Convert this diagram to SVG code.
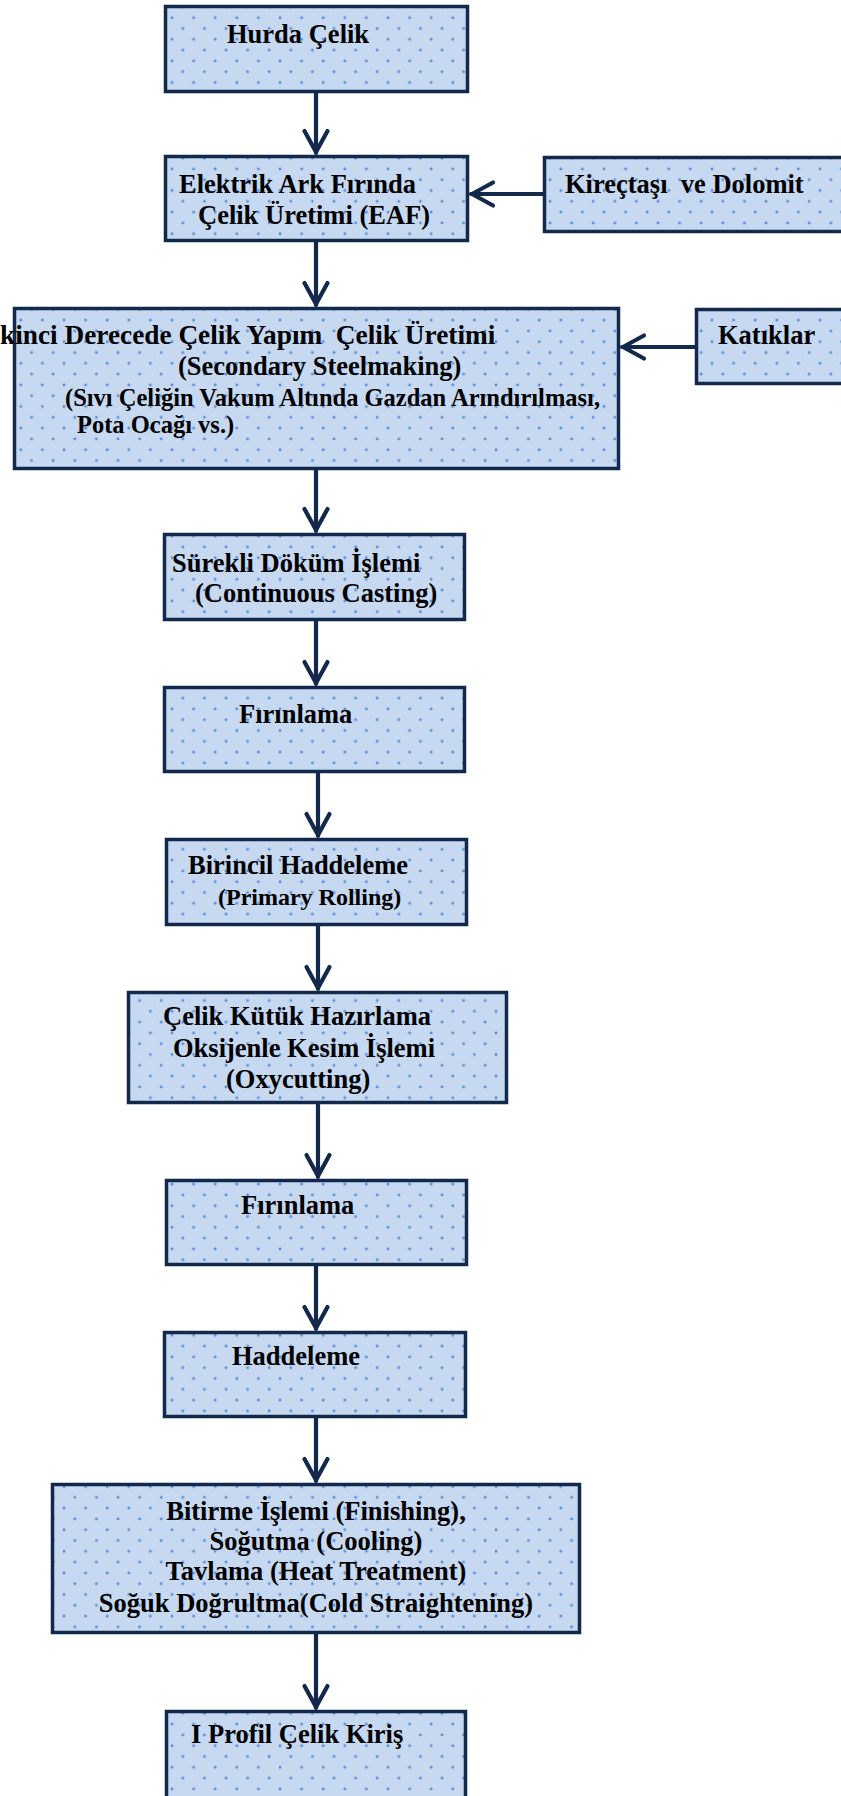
<svg xmlns="http://www.w3.org/2000/svg" width="841" height="1796" viewBox="0 0 841 1796" xml:space="preserve">
  <defs>
    <!-- staggered blue dot texture used inside every box -->
    <pattern id="dots" patternUnits="userSpaceOnUse" x="7" y="4" width="21.6" height="21.6">
      <rect width="21.6" height="21.6" fill="#c6d9f1"/>
      <circle cx="3" cy="3" r="1.45" fill="#5b8fd9"/>
      <circle cx="13.8" cy="13.8" r="1.45" fill="#5b8fd9"/>
    </pattern>
    <marker id="arrow" markerUnits="userSpaceOnUse" markerWidth="32" markerHeight="32" viewBox="0 0 32 32" refX="26" refY="16" orient="auto">
      <path d="M4,4.5 L25,16 L4,27.5" fill="none" stroke="#13294b" stroke-width="4.2" stroke-linecap="round" stroke-linejoin="round"/>
    </marker>
  </defs>
  <style>
    .box { fill: url(#dots); stroke: #13294b; stroke-width: 3.5; }
    .t { font-family: "Liberation Serif", "Times New Roman", serif; font-weight: bold; font-size: 26.5px; fill: #000; white-space: pre; }
    .s { font-size: 24px; }
    .m { font-size: 24.5px; }
    .l { font-size: 27.3px; }
    .c { text-anchor: middle; }
    .conn line { stroke: #13294b; stroke-width: 4.2; stroke-linecap: round; marker-end: url(#arrow); }
  </style>

  <g id="n-hurda">
    <rect class="box" x="165.5" y="6.5" width="302" height="85"/>
    <text class="t" x="227" y="43">Hurda Çelik</text>
  </g>

  <g id="n-eaf">
    <rect class="box" x="165.5" y="156.5" width="302" height="84"/>
    <text class="t" x="179" y="193">Elektrik Ark Fırında</text>
    <text class="t" x="198" y="224">Çelik Üretimi (EAF)</text>
  </g>

  <g id="n-kirectasi">
    <rect class="box" x="544.5" y="157.5" width="310" height="74"/>
    <text class="t" x="565" y="193" xml:space="preserve">Kireçtaşı  ve Dolomit</text>
  </g>

  <g id="n-secondary">
    <rect class="box" x="14.5" y="308.5" width="604" height="160"/>
    <text class="t l" x="0" y="344" xml:space="preserve">kinci Derecede Çelik Yapım  Çelik Üretimi</text>
    <text class="t" x="178" y="375">(Secondary Steelmaking)</text>
    <text class="t m" x="65" y="406">(Sıvı Çeliğin Vakum Altında Gazdan Arındırılması,</text>
    <text class="t m" x="77" y="433">Pota Ocağı vs.)</text>
  </g>

  <g id="n-katiklar">
    <rect class="box" x="696.5" y="309.5" width="160" height="74"/>
    <text class="t" x="718" y="344">Katıklar</text>
  </g>

  <g id="n-surekli">
    <rect class="box" x="164.5" y="534.5" width="300" height="85"/>
    <text class="t" x="172" y="572">Sürekli Döküm İşlemi</text>
    <text class="t" x="195" y="602">(Continuous Casting)</text>
  </g>

  <g id="n-firinlama1">
    <rect class="box" x="164.5" y="687.5" width="300" height="84"/>
    <text class="t" x="239" y="723">Fırınlama</text>
  </g>

  <g id="n-birincil">
    <rect class="box" x="166.5" y="839.5" width="300" height="85"/>
    <text class="t" x="188" y="874">Birincil Haddeleme</text>
    <text class="t s" x="218" y="905">(Primary Rolling)</text>
  </g>

  <g id="n-kutuk">
    <rect class="box" x="128.5" y="992.5" width="378" height="110"/>
    <text class="t" x="163" y="1025">Çelik Kütük Hazırlama</text>
    <text class="t" x="173" y="1057">Oksijenle Kesim İşlemi</text>
    <text class="t" x="226" y="1088">(Oxycutting)</text>
  </g>

  <g id="n-firinlama2">
    <rect class="box" x="166.5" y="1180.5" width="300" height="84"/>
    <text class="t" x="241" y="1214">Fırınlama</text>
  </g>

  <g id="n-haddeleme">
    <rect class="box" x="164.5" y="1332.5" width="301" height="84"/>
    <text class="t" x="232" y="1365">Haddeleme</text>
  </g>

  <g id="n-bitirme">
    <rect class="box" x="52.5" y="1484.5" width="527" height="148"/>
    <text class="t c" x="316" y="1520">Bitirme İşlemi (Finishing),</text>
    <text class="t c" x="316" y="1550">Soğutma (Cooling)</text>
    <text class="t c" x="316" y="1580">Tavlama (Heat Treatment)</text>
    <text class="t c" x="316" y="1612">Soğuk Doğrultma(Cold Straightening)</text>
  </g>

  <g id="n-profil">
    <rect class="box" x="166.5" y="1711.5" width="299" height="100"/>
    <text class="t" x="191" y="1743">I Profil Çelik Kiriş</text>
  </g>

  <g id="connectors" class="conn">
    <line x1="316" y1="93" x2="316" y2="153"/>
    <line x1="543" y1="194" x2="471" y2="194"/>
    <line x1="316" y1="242" x2="316" y2="305"/>
    <line x1="695" y1="347" x2="622" y2="347"/>
    <line x1="316" y1="470" x2="316" y2="531"/>
    <line x1="316" y1="621" x2="316" y2="684"/>
    <line x1="318" y1="773" x2="318" y2="836"/>
    <line x1="318" y1="926" x2="318" y2="989"/>
    <line x1="318" y1="1104" x2="318" y2="1177"/>
    <line x1="316" y1="1266" x2="316" y2="1329"/>
    <line x1="316" y1="1418" x2="316" y2="1481"/>
    <line x1="316" y1="1634" x2="316" y2="1708"/>
  </g>
</svg>
